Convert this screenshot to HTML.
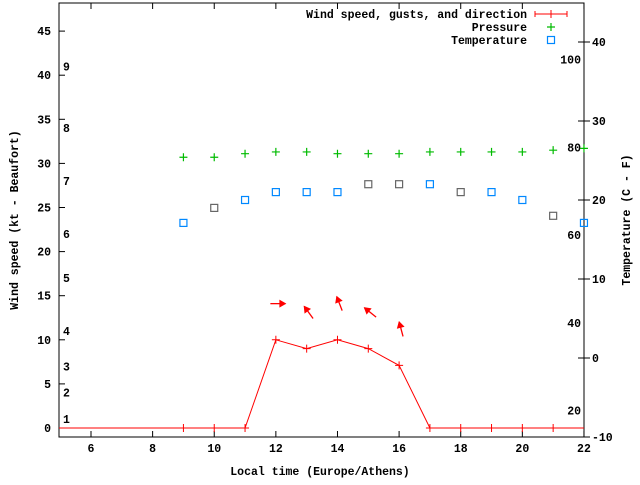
<!DOCTYPE html>
<html><head><meta charset="utf-8"><style>
body{margin:0;background:#fff}
svg text{font-family:"Liberation Mono",monospace;font-size:11.5px;font-weight:bold;fill:#000}
</style></head><body>
<svg id="c" width="640" height="480" xmlns="http://www.w3.org/2000/svg"></svg>
<script>
const hours=[9,10,11,12,13,14,15,16,17,18,19,20,21,22];
const windSpeed=[0,0,0,10,9,10,9,7.1,0,0,0,0,0,0];
const pressure=[30.7,30.7,31.1,31.3,31.3,31.1,31.1,31.1,31.3,31.3,31.3,31.3,31.5,31.7];
const tempC=[17.1,19,20,21,21,21,22,22,22,21,21,20,18,17.1];
const tempGray=[0,1,0,0,0,0,1,1,0,1,0,0,1,0];
const arrowHours=[12,13,14,15,16];
const arrowDir=[90,324,339,309,345];
const leftTicks=[0,5,10,15,20,25,30,35,40,45];
const rightTicks=[-10,0,10,20,30,40];
const xTicks=[6,8,10,12,14,16,18,20,22];
const beaufort=[1,4,7,11,17,22,28,34,41];
const fahr=[20,40,60,80,100];
const svg=document.getElementById('c');
const NS='http://www.w3.org/2000/svg';
const L=59,R=584,T=3,B=437;
const X=h=>91+(h-6)*30.81;
const Y=k=>428-k*8.82;
const YT=c=>437-(c+10)*7.9;
function el(tag,a,txt){const e=document.createElementNS(NS,tag);for(const k in a)e.setAttribute(k,a[k]);if(txt!==undefined)e.textContent=txt;svg.appendChild(e);return e;}
let f=el('path',{d:`M${L} ${T}H${R}V${B}H${L}Z`,fill:'none',stroke:'#000','stroke-width':1});

leftTicks.forEach(v=>{let y=Y(v);let t=el('line',{x1:L,x2:L+6,y1:y,y2:y,stroke:'#000'});
let tx=el('text',{x:L-8,y:y+4,'text-anchor':'end'},v);});
rightTicks.forEach(v=>{let y=YT(v);let t=el('line',{x1:R-6,x2:R+6,y1:y,y2:y,stroke:'#000'});
let tx=el('text',{x:R+8,y:y+4},v);});
xTicks.forEach(v=>{let x=X(v);let t=el('path',{d:`M${x} ${B}v-6M${x} ${T}v6`,stroke:'#000'});
let tx=el('text',{x:x,y:B+15,'text-anchor':'middle'},v);});
beaufort.forEach((k,i)=>{let tx=el('text',{x:63,y:Y(k)+4},i+1);});
fahr.forEach(v=>{let tx=el('text',{x:581,y:YT((v-32)*5/9)+4,'text-anchor':'end'},v);});
let pts=hours.map((h,i)=>X(h)+','+Y(windSpeed[i]));
let wl=el('polyline',{points:`${L},${Y(0)} `+pts.join(' '),fill:'none',stroke:'#f00','stroke-width':1});

hours.forEach((h,i)=>{if(h>=22)return;let x=X(h),y=Y(windSpeed[i]);let m=el('path',{d:`M${x-4} ${y}h8M${x} ${y-4}v8`,stroke:'#f00'});});
hours.forEach((h,i)=>{let x=X(h),y=Y(pressure[i]);let m=el('path',{d:`M${x-4} ${y}h8M${x} ${y-4}v8`,stroke:'#0b0','stroke-width':1.2});});
hours.forEach((h,i)=>{let x=X(h),y=YT(tempC[i]);let m=el('rect',{x:x-3.5,y:y-3.5,width:7,height:7,fill:'none',stroke:tempGray[i]?'#666':'#08f','stroke-width':1.2});});
arrowHours.forEach((h,i)=>{let idx=hours.indexOf(h);let cx=X(h)+2,cy=Y(windSpeed[idx]+4.1);let a=arrowDir[i]*Math.PI/180;let dx=Math.sin(a),dy=-Math.cos(a);
let x1=cx-dx*7.5,y1=cy-dy*7.5,x2=cx+dx*7.5,y2=cy+dy*7.5;let px=-dy,py=dx;
let g=el('g',{});
let ln=document.createElementNS(NS,'line');[['x1',x1],['y1',y1],['x2',x2],['y2',y2],['stroke','#f00'],['stroke-width',1.3]].forEach(p=>ln.setAttribute(p[0],p[1]));g.appendChild(ln);
let hd=document.createElementNS(NS,'path');hd.setAttribute('d',`M${x2+dx*1} ${y2+dy*1}L${x2-dx*6+px*4} ${y2-dy*6+py*4}L${x2-dx*6-px*4} ${y2-dy*6-py*4}Z`);hd.setAttribute('fill','#f00');g.appendChild(hd);});
const leg=[['Wind speed, gusts, and direction',14],['Pressure',27],['Temperature',40]];
leg.forEach(l=>{let tx=el('text',{x:527,y:l[1]+4,'text-anchor':'end'},l[0]);});
let s1=el('path',{d:'M535 14h32M535 11v6M567 11v6M551 10v8',stroke:'#f00'});
let s2=el('path',{d:'M547 27h8M551 23v8',stroke:'#0b0','stroke-width':1.2});
let s3=el('rect',{x:547.5,y:36.5,width:7,height:7,fill:'none',stroke:'#08f','stroke-width':1.2});
let xl=el('text',{x:320,y:475,'text-anchor':'middle'},'Local time (Europe/Athens)');
let yl=el('text',{x:0,y:0,'text-anchor':'middle',transform:'translate(18,220) rotate(-90)'},'Wind speed (kt - Beaufort)');
let yr=el('text',{x:0,y:0,'text-anchor':'middle',transform:'translate(630,220) rotate(-90)'},'Temperature (C - F)');
</script>
</body></html>
